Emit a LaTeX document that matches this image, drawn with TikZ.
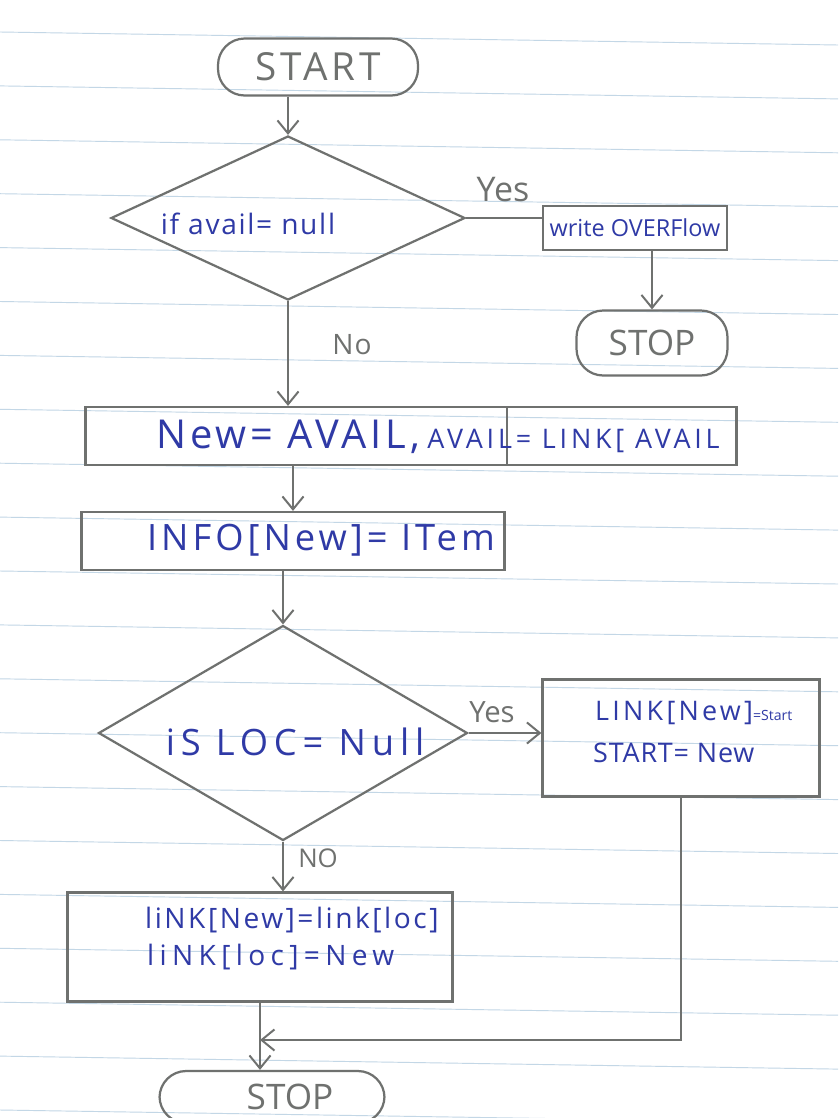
\documentclass[tikz,border=0pt]{standalone}
\usepackage{fontspec}
\setmainfont{Open Sans}
\usetikzlibrary{shapes.geometric,arrows.meta}
\definecolor{pencil}{HTML}{6F716F}
\definecolor{ink}{HTML}{2F3AA6}
\definecolor{ruling}{HTML}{C3D7E6}
% font size plus extra letter spacing, for the wide hand lettering
\newcommand{\fsp}[2]{\fontsize{#1}{#1}\selectfont\addfontfeature{LetterSpace=#2}}

\begin{document}
\begin{tikzpicture}[x=0.03cm,y=-0.03cm,
  shapeline/.style={draw=pencil,line width=1.9pt},
  terminal/.style={shapeline,rectangle,rounded corners=0.8cm,inner sep=0,text=pencil},
  procbox/.style={shapeline,rectangle,inner sep=0,text=ink},
  decision/.style={shapeline,diamond,inner sep=0},
  flow/.style={draw=pencil,line width=1.9pt,-{Straight Barb[length=11pt,width=18pt,line width=1.7pt]}},
  plainflow/.style={draw=pencil,line width=1.9pt},
  inktext/.style={text=ink,inner sep=0},
  penciltext/.style={text=pencil,inner sep=0},
]
\useasboundingbox (0,0) rectangle (838,1118);
\fill[white] (0,0) rectangle (838,1118);

% ruled notebook paper
\foreach \k in {0,...,20}
  \draw[ruling,line width=0.8pt] (0,{32+53.9*\k}) -- (838,{45+53.9*\k});

% terminals
\node[terminal,minimum width={200*0.03cm},minimum height={57*0.03cm},font={\fsp{33}{10}}] (start) at (318,67) {START};
\node[terminal,minimum width={151*0.03cm},minimum height={65*0.03cm},font={\fsp{30}{0}}] (stop1) at (652,343) {STOP};
\node[terminal,minimum width={225*0.03cm},minimum height={52*0.03cm}] (stop2) at (272,1097) {};
\node[penciltext,font={\fsp{30}{0}}] (stop2text) at (290,1097) {STOP};

% first decision
\node[decision,minimum width={354*0.03cm},minimum height={164*0.03cm}] (d1) at (288,218) {};
\node[inktext,font={\fsp{24}{6}}] (d1text) at (248,224) {if avail= null};
\node[procbox,minimum width={184*0.03cm},minimum height={44*0.03cm},font={\fsp{20}{0}}] (wbox) at (635,228) {write OVERFlow};

% assignments
\node[procbox,minimum width={651*0.03cm},minimum height={58*0.03cm}] (box1) at (411,436) {};
\draw[draw=pencil,line width=1.1pt] (507,407) -- (507,465);
\node[inktext] (box1text) at (438,437) {\fsp{34}{10}New= AVAIL,\hspace{6pt}\fsp{23}{14}AVAIL= LINK[ AVAIL};
\node[procbox,minimum width={423*0.03cm},minimum height={58*0.03cm}] (box2) at (293,541) {};
\node[inktext,font={\fsp{31}{11}}] (box2text) at (321,540) {INFO[New]= ITem};

% second decision
\node[decision,minimum width={369*0.03cm},minimum height={215*0.03cm}] (d2) at (283,733) {};
\node[inktext,font={\fsp{31}{16}}] (d2text) at (295,742) {iS LOC= Null};
\node[procbox,minimum width={277*0.03cm},minimum height={117*0.03cm}] (box3) at (681,738) {};
\node[inktext,anchor=west,font={\fsp{23}{12}}] (box3a) at (595,713) {LINK[New]\fsp{12}{0}=Start};
\node[inktext,anchor=west,font={\fsp{23}{3}}] (box3b) at (593,753) {START= New};
\node[procbox,minimum width={385*0.03cm},minimum height={109*0.03cm}] (box4) at (260,947) {};
\node[inktext,anchor=west,font={\fsp{24}{9}}] (box4a) at (145,920) {liNK[New]=link[loc]};
\node[inktext,anchor=west,font={\fsp{24}{19}}] (box4b) at (147,957) {liNK[loc]=New};

% branch labels
\node[penciltext,font={\fsp{29}{0}}] (yes1) at (503,190) {Yes};
\node[penciltext,font={\fsp{24}{4}}] (no1) at (352,345) {No};
\node[penciltext,font={\fsp{25}{0}}] (yes2) at (492,712) {Yes};
\node[penciltext,font={\fsp{22}{0}}] (no2) at (318,858) {NO};

% connectors
\draw[flow] (start.south -| d1.north) -- (d1.north);
\draw[plainflow] (d1.east) -- (d1.east -| wbox.west);
\draw[flow] (stop1.north |- wbox.south) -- (stop1.north);
\draw[flow] (d1.south) -- (d1.south |- box1.north);
\draw[flow] (box2.north |- box1.south) -- (box2.north);
\draw[flow] (d2.north |- box2.south) -- (d2.north);
\draw[flow] (d2.east) -- (d2.east -| box3.west);
\draw[flow] (d2.south) -- (d2.south |- box4.north);
\draw[flow] (box4.south) -- (box4.south |- stop2.north);
\coordinate (merge) at (260,1040);
\draw[flow] (box3.south) |- (merge);
\end{tikzpicture}
\end{document}
